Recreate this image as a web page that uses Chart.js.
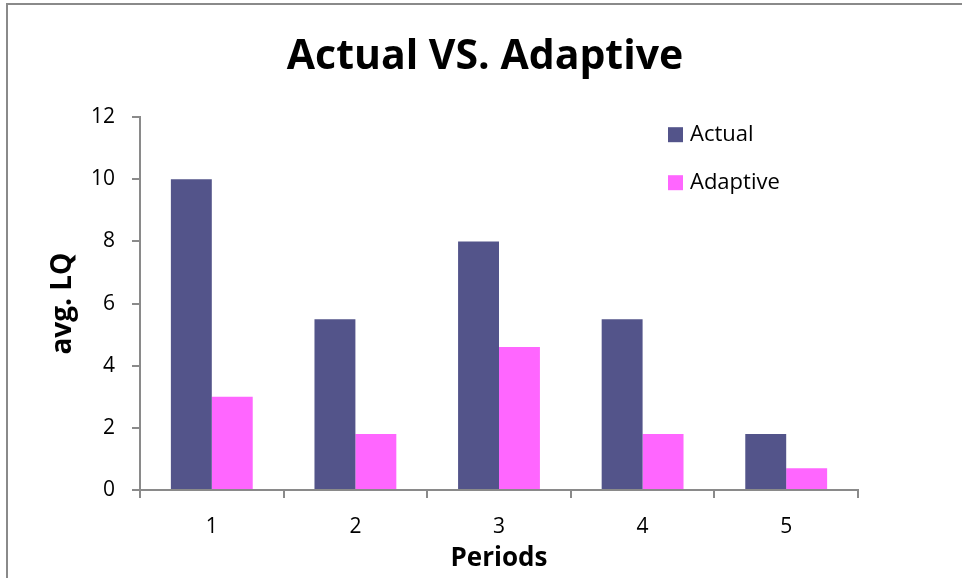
<!DOCTYPE html>
<html>
<head>
<meta charset="utf-8">
<script src="https://cdn.jsdelivr.net/npm/chart.js@4.4.0/dist/chart.umd.min.js"></script>
<style>
  html, body { margin: 0; padding: 0; background: #fff; }
  #wrap { position: relative; width: 962px; height: 578px; }
  #frame { position: absolute; left: 6px; top: 3px; right: 0; bottom: 0; border-left: 2px solid #8a8a8a; border-top: 2px solid #8a8a8a; pointer-events: none; }
  canvas { position: absolute; left: 0; top: 0; }
</style>
</head>
<body>
<div id="wrap">
  <canvas id="chart" width="962" height="578"></canvas>
  <div id="frame"></div>
</div>
<script>
var periods  = ['1', '2', '3', '4', '5'];
var actual   = [10, 5.5, 8, 5.5, 1.8];
var adaptive = [3, 1.8, 4.6, 1.8, 0.7];

var FONT = '"Open Sans", "Noto Sans", sans-serif';

// legend drawn inside the plot, top-right, like the excel original
var boxLegend = {
  id: 'boxLegend',
  afterDraw: function(chart){
    var ctx = chart.ctx, a = chart.chartArea;
    var x = a.right - 190, y = a.top + 10;
    ctx.save();
    ctx.font = '22px ' + FONT;
    ctx.textBaseline = 'middle';
    chart.data.datasets.forEach(function(ds, i){
      var yy = y + i * 48;
      ctx.fillStyle = ds.backgroundColor;
      ctx.fillRect(x, yy, 15, 15);
      ctx.fillStyle = '#000';
      ctx.fillText(ds.label, x + 22, yy + 8);
    });
    ctx.restore();
  }
};

new Chart(document.getElementById('chart'), {
  type: 'bar',
  data: {
    labels: periods,
    datasets: [
      { label: 'Actual',   data: actual,   backgroundColor: '#53548a', categoryPercentage: 0.57, barPercentage: 1 },
      { label: 'Adaptive', data: adaptive, backgroundColor: '#ff66ff', categoryPercentage: 0.57, barPercentage: 1 }
    ]
  },
  options: {
    responsive: false,
    animation: false,
    layout: { padding: { left: 8, right: 0, top: 0, bottom: 0 } },
    plugins: {
      legend: { display: false },
      tooltip: { enabled: false },
      title: {
        display: true,
        text: 'Actual VS. Adaptive',
        color: '#000',
        font: { family: FONT, size: 41, weight: 'bold' },
        padding: { top: 33, bottom: 35 }
      }
    },
    scales: {
      x: {
        grid: { drawOnChartArea: false, drawTicks: true, tickLength: 8, color: '#8a8a8a', lineWidth: 2 },
        border: { color: '#8a8a8a', width: 2 },
        ticks: { color: '#000', font: { family: FONT, size: 21 }, padding: 16 },
        title: { display: true, text: 'Periods', color: '#000', font: { family: FONT, size: 26, weight: 'bold' }, padding: { top: 0 } },
        afterFit: function(s){ s.height = 88; }
      },
      y: {
        min: 0, max: 12,
        ticks: { stepSize: 2, color: '#000', font: { family: FONT, size: 21 }, padding: 17 },
        grid: { drawOnChartArea: false, drawTicks: true, tickLength: 8, color: '#8a8a8a', lineWidth: 2 },
        border: { color: '#8a8a8a', width: 2 },
        title: { display: true, text: 'avg. LQ', color: '#000', font: { family: FONT, size: 28, weight: 'bold' }, padding: { top: 38, bottom: 0 } },
        afterFit: function(s){ s.width = 132; }
      },
      // empty right-hand strip so the title centres on the page like the original
      side: {
        position: 'right',
        display: true,
        grid: { display: false },
        border: { display: false },
        ticks: { display: false },
        afterFit: function(s){ s.width = 104; }
      }
    }
  },
  plugins: [boxLegend]
});
</script>
</body>
</html>
